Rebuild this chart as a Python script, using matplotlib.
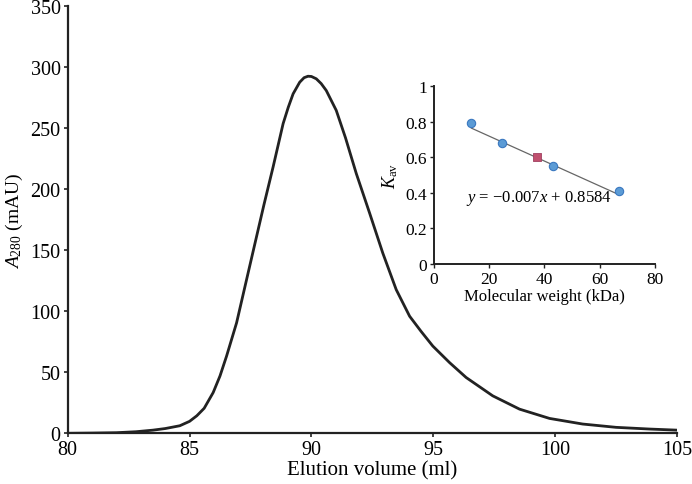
import matplotlib.pyplot as plt
import numpy as np

plt.rcParams['font.family'] = ['Liberation Serif', 'DejaVu Serif']
plt.rcParams['mathtext.fontset'] = 'custom'
plt.rcParams['mathtext.rm'] = 'Liberation Serif'
plt.rcParams['mathtext.it'] = 'Liberation Serif:italic'

# elution profile
volume = [80.0, 81.0, 82.0, 82.8, 83.5, 84.0, 84.6, 85.0, 85.3, 85.6,
          85.97, 86.25, 86.52, 86.93, 87.34, 87.75, 88.05, 88.43, 88.84, 89.05,
          89.25, 89.52, 89.7, 89.86, 90.0, 90.2, 90.4, 90.61, 91.02, 91.4,
          91.84, 92.39, 92.93, 93.48, 94.03, 94.5, 94.98, 95.67, 96.35, 97.44,
          98.54, 99.77, 101.13, 102.5, 103.87, 105.0]
a280 = [0.0, 0.2, 0.5, 1.3, 2.6, 3.9, 6.2, 9.8, 14.4, 20.5,
        33.4, 47.0, 63.3, 90.5, 125.9, 161.2, 187.0, 218.3, 253.7, 267.0,
        278.1, 287.6, 291.3, 292.5, 292.3, 290.4, 286.5, 280.8, 264.5, 242.0,
        212.9, 180.3, 147.6, 117.7, 95.9, 83.5, 71.5, 57.9, 45.7, 30.7,
        19.8, 12.2, 7.6, 4.9, 3.5, 2.6]

# calibration standards (inset)
mw_std = [13.6, 24.7, 43.0, 67.1]
kav_std = [0.79, 0.68, 0.55, 0.41]
mw_sample = [37.3]
kav_sample = [0.603]
slope, intercept = -0.007, 0.8584
fit_x = [13.6, 67.1]

fig = plt.figure(figsize=(6.92, 4.85), dpi=100)
ax = fig.add_axes([0.0978, 0.1045, 0.8805, 0.881])
ax.plot(volume, a280, color='#222222', lw=2, solid_joinstyle='round')
ax.set_xlim(80, 105)
ax.set_ylim(0, 350)
ax.set_xticks([80, 85, 90, 95, 100, 105])
ax.set_yticks(range(0, 351, 50))
ax.set_xlabel('Elution volume (ml)', fontsize=15, labelpad=1)
ax.set_ylabel(r'$\mathit{A}_{\mathrm{280}}$ (mAU)', fontsize=14, labelpad=4)
for s in ['top', 'right']:
    ax.spines[s].set_visible(False)
for s in ['left', 'bottom']:
    ax.spines[s].set_linewidth(1.6)
    ax.spines[s].set_color('#222222')
ax.tick_params(labelsize=14.5, length=3, width=1.2, color='#222222', pad=2)

ins = fig.add_axes([0.627, 0.4536, 0.3194, 0.367])
fx = np.array(fit_x)
ins.plot(fx, slope * fx + intercept, color='#666666', lw=0.9, zorder=1)
ins.scatter(mw_std, kav_std, s=36, color='#5b9bd5', edgecolors='#3a78c0',
            linewidths=0.8, zorder=3)
ins.scatter(mw_sample, kav_sample, s=40, marker='s', color='#c0506e',
            edgecolors='#a04060', linewidths=0.6, zorder=3)
ins.text(11.6, 0.376, r'$y$ = −0.007$x$ + 0.8584', fontsize=12, va='center')
ins.set_xlim(0, 80)
ins.set_ylim(0, 1)
ins.set_xticks([0, 20, 40, 60, 80])
ins.set_yticks([0, 0.2, 0.4, 0.6, 0.8, 1])
ins.set_yticklabels(['0', '0.2', '0.4', '0.6', '0.8', '1'])
ins.set_xlabel('Molecular weight (kDa)', fontsize=12, labelpad=1)
ins.set_ylabel(r'$\mathit{K}_{\mathrm{av}}$', fontsize=13, labelpad=4)
for s in ['top', 'right']:
    ins.spines[s].set_visible(False)
for s in ['left', 'bottom']:
    ins.spines[s].set_linewidth(1.4)
    ins.spines[s].set_color('#222222')
ins.tick_params(labelsize=12.5, length=3, width=1.0, color='#222222', pad=2)
ins.patch.set_alpha(0)

fig.savefig('out.png', dpi=100)
